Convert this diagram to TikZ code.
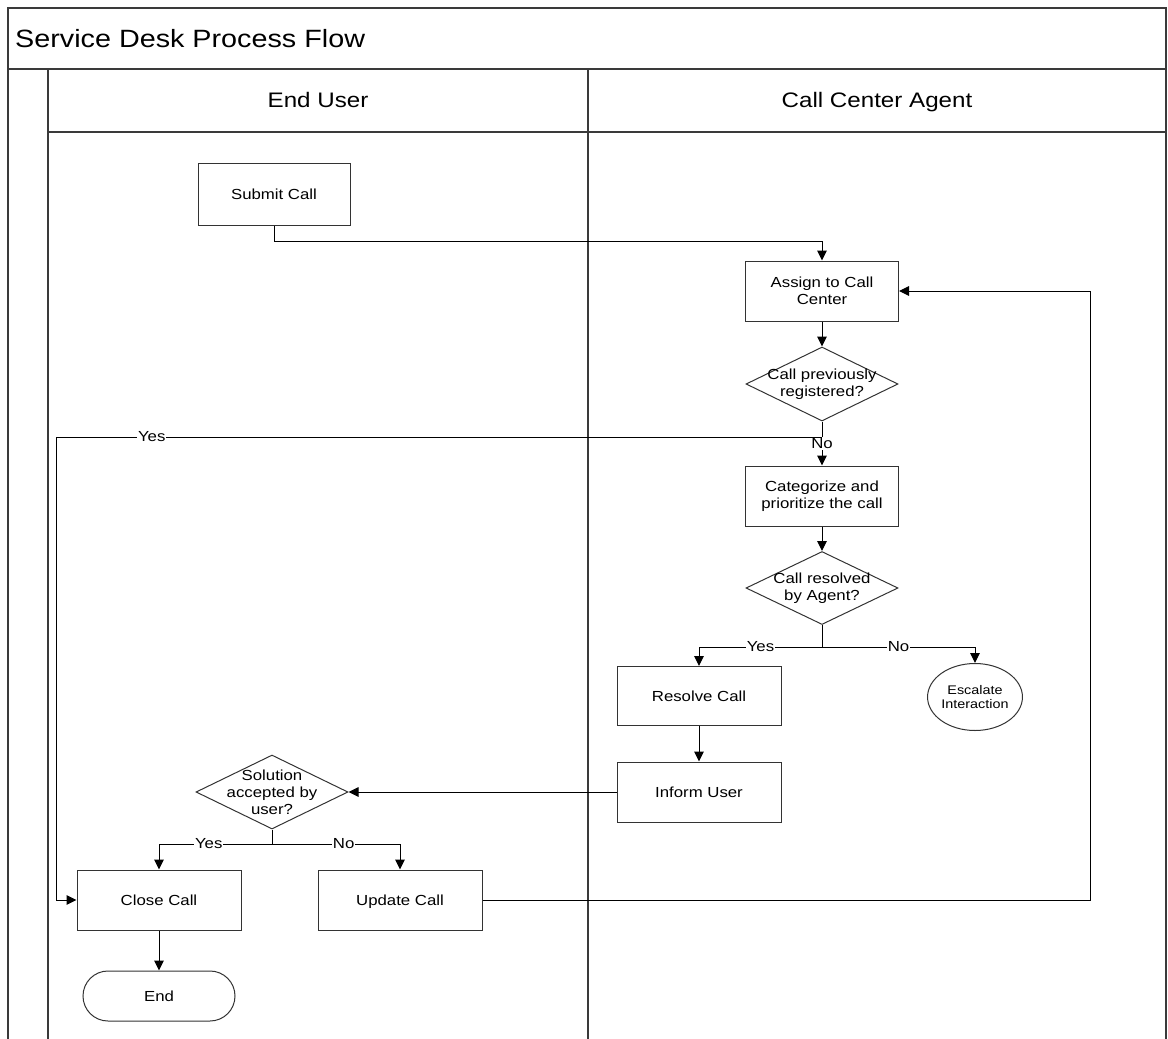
\documentclass[tikz,border=0pt]{standalone}
\usepackage{fontspec}
\setmainfont[FakeStretch=1.15]{Liberation Sans}
\usetikzlibrary{arrows.meta,shapes.geometric}
\definecolor{frame}{HTML}{3A3A3A}
\definecolor{boxline}{HTML}{333333}
\tikzset{
  lane/.style={draw=frame,line width=1.4pt},
  procbox/.style={draw=boxline,line width=1pt,rectangle,minimum width=153pt,minimum height=60pt,inner sep=2pt,align=center,font=\fontsize{14.6}{16.8}\selectfont},
  oneline/.style={text height=10.5pt,text depth=0pt},
  decbox/.style={draw=boxline,line width=1pt,diamond,minimum width=152pt,minimum height=74pt,inner sep=0pt},
  dectext/.style={align=center,inner sep=0pt,font=\fontsize{14.6}{16.8}\selectfont},
  arr/.style={draw=black,line width=1pt,-{Triangle[length=10pt,width=9.5pt]}},
  conn/.style={draw=black,line width=1pt},
  lbl/.style={fill=white,inner sep=1pt,font=\fontsize{14.6}{16.8}\selectfont},
  hdr/.style={font=\fontsize{21}{24}\selectfont,inner sep=0pt,text height=15pt,text depth=0pt}
}
\begin{document}
\begin{tikzpicture}[x=1pt,y=-1pt]
\useasboundingbox (0,0) rectangle (1168,1039);
% frame and lanes
\draw[lane] (8,1039) -- (8,8) -- (1166,8) -- (1166,1039);
\draw[lane] (8,69) -- (1166,69);
\draw[lane] (48,132) -- (1166,132);
\draw[lane] (48,69) -- (48,1039);
\draw[lane] (588,69) -- (588,1039);
\node[anchor=west,font=\fontsize{25}{29}\selectfont,inner sep=0pt] (title) at (15,39) {Service Desk Process Flow};
\node[hdr] (h1) at (318,100) {End User};
\node[hdr] (h2) at (877,100) {Call Center Agent};
% nodes
\node[procbox,oneline,minimum width=152pt,minimum height=62pt] (submit) at (274,194) {Submit Call};
\node[procbox] (assign) at (822,291) {Assign to Call\\Center};
\node[decbox] (dec1) at (822,384) {};
\node[dectext] (dec1t) at (822,384) {Call previously\\registered?};
\node[procbox] (categ) at (822,496) {Categorize and\\prioritize the call};
\node[decbox,minimum height=73pt] (dec2) at (822,588) {};
\node[dectext] (dec2t) at (822,588) {Call resolved\\by Agent?};
\node[procbox,oneline,minimum width=164pt,minimum height=59pt] (resolve) at (699,696) {Resolve Call};
\node[draw=boxline,line width=1pt,ellipse,minimum width=83pt,minimum height=67pt,inner sep=0pt,align=center,font=\fontsize{12.5}{14}\selectfont] (escalate) at (975,697) {Escalate\\Interaction};
\node[procbox,oneline,minimum width=164pt] (inform) at (699,792) {Inform User};
\node[decbox] (dec3) at (272,792) {};
\node[dectext] (dec3t) at (272,792) {Solution\\accepted by\\user?};
\node[procbox,oneline,minimum width=164pt] (close) at (159,900) {Close Call};
\node[procbox,oneline,minimum width=164pt] (update) at (400,900) {Update Call};
\node[draw=boxline,line width=1pt,rectangle,rounded corners=25pt,minimum width=152pt,minimum height=50pt,oneline,font=\fontsize{14.6}{16.8}\selectfont] (endn) at (159,996) {End};
% helper coordinates
\coordinate (s1) at (274,241);
\coordinate (j1) at (822,437);
\coordinate (yl) at (56,437);
\coordinate (j2) at (822,647);
\coordinate (j3) at (272,844);
\coordinate (r1) at (1090,900);
% connectors
\draw[arr] (submit.south) -- (s1) -| (assign.north);
\draw[arr] (assign.south) -- (dec1.north);
\draw[arr] (dec1.south) -- node[lbl,pos=0.5] {No} (categ.north);
\draw[arr] (j1) -- node[lbl,pos=0.875] {Yes} (yl) |- (close.west);
\draw[arr] (categ.south) -- (dec2.north);
\draw[conn] (dec2.south) -- (j2);
\draw[arr] (j2) -| node[lbl,pos=0.25] {Yes} (resolve.north);
\draw[arr] (j2) -| node[lbl,pos=0.25] {No} (escalate.north);
\draw[arr] (resolve.south) -- (inform.north);
\draw[arr] (inform.west) -- (dec3.east);
\draw[conn] (dec3.south) -- (j3);
\draw[arr] (j3) -| node[lbl,pos=0.28] {Yes} (close.north);
\draw[arr] (j3) -| node[lbl,pos=0.28] {No} (update.north);
\draw[arr] (close.south) -- (endn.north);
\draw[arr] (update.east) -- (r1) |- (assign.east);
\end{tikzpicture}
\end{document}
